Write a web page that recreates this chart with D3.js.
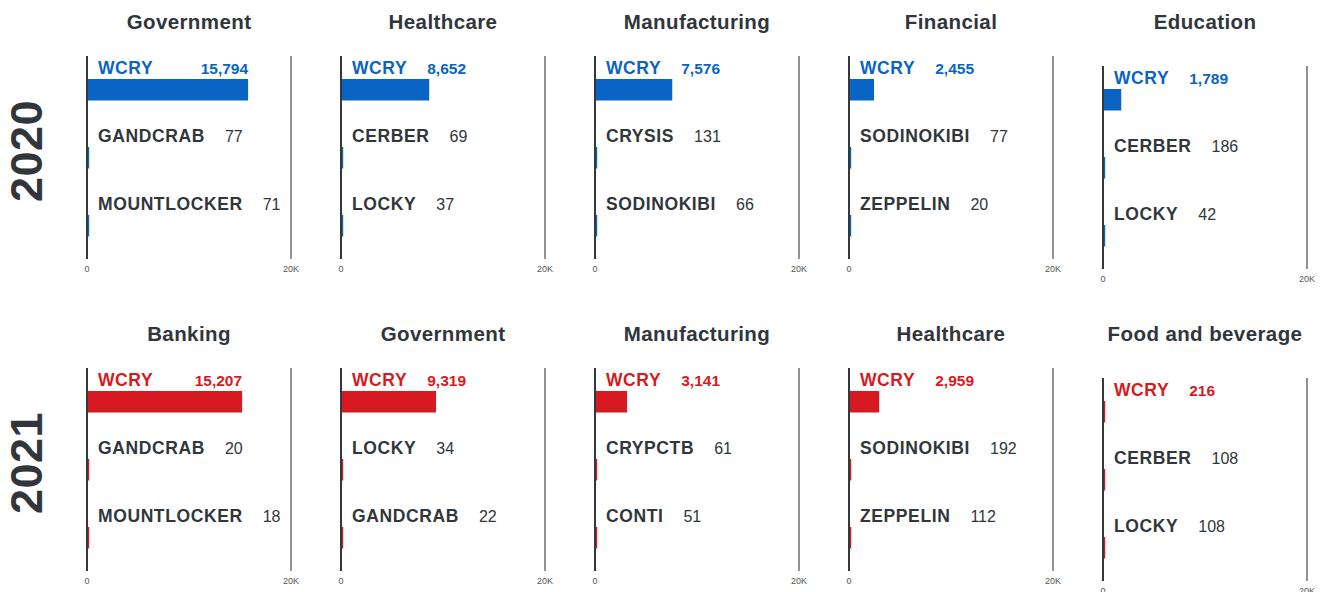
<!DOCTYPE html>
<html>
<head>
<meta charset="utf-8">
<script src="https://cdn.jsdelivr.net/npm/d3@7"></script>
<style>
  body { margin: 0; background: #fff; }
  svg { display: block; font-family: "Liberation Sans", Arial, sans-serif; }
</style>
</head>
<body>
<div id="chart"></div>
<script>
// data
const years = ["2020", "2021"];
const sectors2020 = ["Government", "Healthcare", "Manufacturing", "Financial", "Education"];
const families2020 = [
  ["WCRY", "GANDCRAB", "MOUNTLOCKER"],
  ["WCRY", "CERBER", "LOCKY"],
  ["WCRY", "CRYSIS", "SODINOKIBI"],
  ["WCRY", "SODINOKIBI", "ZEPPELIN"],
  ["WCRY", "CERBER", "LOCKY"]
];
const values2020 = [[15794, 77, 71], [8652, 69, 37], [7576, 131, 66], [2455, 77, 20], [1789, 186, 42]];

const sectors2021 = ["Banking", "Government", "Manufacturing", "Healthcare", "Food and beverage"];
const families2021 = [
  ["WCRY", "GANDCRAB", "MOUNTLOCKER"],
  ["WCRY", "LOCKY", "GANDCRAB"],
  ["WCRY", "CRYPCTB", "CONTI"],
  ["WCRY", "SODINOKIBI", "ZEPPELIN"],
  ["WCRY", "CERBER", "LOCKY"]
];
const values2021 = [[15207, 20, 18], [9319, 34, 22], [3141, 61, 51], [2959, 192, 112], [216, 108, 108]];

const tickLabels = ["0", "20K"];
const xMax = 20000;

const sectors = [sectors2020, sectors2021];
const families = [families2020, families2021];
const values = [values2020, values2021];
const yearColors = ["#0a64c3", "#d71a21"];

const width = 1325, height = 592;
const textColor = "#30363b";

const svg = d3.select("#chart").append("svg")
    .attr("width", width)
    .attr("height", height);

// panel placement
const panelX = d3.scaleLinear().domain([0, 4]).range([87, 1103]);
const rowY = d3.scaleLinear().domain([0, 1]).range([56, 368]);
const panelW = 204, axisH = 203;
const xScale = d3.scaleLinear().domain([0, xMax]).range([0, panelW]);
const barY = d3.scaleLinear().domain([0, 2]).range([23, 159]);
const barH = 21.5;
const fmt = d3.format(",");

years.forEach(function(year, r) {
  // year label
  svg.append("text")
      .attr("transform", "translate(42," + (rowY(r) + 44) + ") rotate(-90)")
      .attr("text-anchor", "end")
      .attr("font-size", "45px")
      .attr("font-weight", "bold")
      .attr("letter-spacing", "0.5px")
      .attr("fill", textColor)
      .text(year);

  sectors[r].forEach(function(sector, i) {
    const x0 = panelX(i);
    const dy = i === 4 ? 10 : 0; // last column sits a bit lower
    const y0 = rowY(r) + dy;

    // title
    svg.append("text")
        .attr("x", x0 + panelW / 2)
        .attr("y", rowY(r) - 27)
        .attr("text-anchor", "middle")
        .attr("font-size", "20.5px")
        .attr("font-weight", "bold")
        .attr("letter-spacing", "0.4px")
        .attr("fill", textColor)
        .text(sector);

    const g = svg.append("g").attr("transform", "translate(" + x0 + "," + y0 + ")");

    // 20K reference line
    g.append("line")
        .attr("x1", xScale(xMax)).attr("x2", xScale(xMax))
        .attr("y1", 0).attr("y2", axisH)
        .attr("stroke", "#6a6e72")
        .attr("stroke-width", 1.5);

    const rows = families[r][i].map(function(name, k) {
      return { name: name, value: values[r][i][k], k: k };
    });

    // bars
    g.selectAll(".bar")
        .data(rows)
        .enter().append("rect")
        .attr("x", 1)
        .attr("y", function(d) { return barY(d.k); })
        .attr("width", function(d) { return Math.max(xScale(d.value) - 1, 1.2); })
        .attr("height", barH)
        .attr("fill", yearColors[r]);

    // zero axis line
    g.append("line")
        .attr("x1", 0).attr("x2", 0)
        .attr("y1", 0).attr("y2", axisH)
        .attr("stroke", "#33383c")
        .attr("stroke-width", 2);

    // tick labels
    g.selectAll(".tick-label")
        .data(tickLabels)
        .enter().append("text")
        .attr("x", function(d, t) { return t === 0 ? 0 : xScale(xMax); })
        .attr("y", axisH + 13)
        .attr("text-anchor", "middle")
        .attr("font-size", "9px")
        .attr("fill", "#555")
        .text(function(d) { return d; });

    // family labels and values
    rows.forEach(function(d) {
      const top = d.k === 0;
      const name = g.append("text")
          .attr("x", 11)
          .attr("y", barY(d.k) - 5)
          .attr("font-size", "17.5px")
          .attr("font-weight", "bold")
          .attr("letter-spacing", "0.6px")
          .attr("fill", top ? yearColors[r] : textColor)
          .text(d.name);
      const labelEnd = 11 + name.node().getComputedTextLength();

      const val = g.append("text")
          .attr("y", barY(d.k) - 5)
          .attr("font-size", top ? "15.5px" : "16px")
          .attr("font-weight", top ? "bold" : "normal")
          .attr("fill", top ? yearColors[r] : textColor)
          .text(fmt(d.value));
      const valW = val.node().getComputedTextLength();
      val.attr("x", Math.max(labelEnd + 20, xScale(d.value) - valW));
    });
  });
});
</script>
</body>
</html>
